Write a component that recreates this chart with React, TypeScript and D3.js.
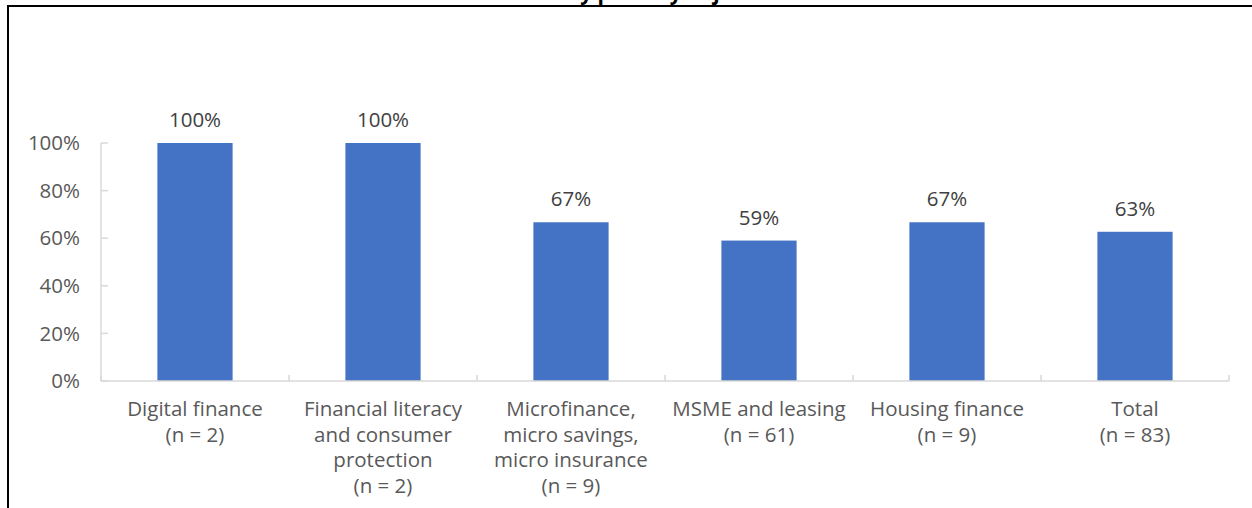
import React, { useEffect, useRef } from 'react';
import * as d3 from 'd3';

// chart data
const categories = [
  ['Digital finance', '(n = 2)'],
  ['Financial literacy', 'and consumer', 'protection', '(n = 2)'],
  ['Microfinance,', 'micro savings,', 'micro insurance', '(n = 9)'],
  ['MSME and leasing', '(n = 61)'],
  ['Housing finance', '(n = 9)'],
  ['Total', '(n = 83)'],
];
const shares = [1.0, 1.0, 0.667, 0.59, 0.667, 0.627];
const yTicks = [0, 0.2, 0.4, 0.6, 0.8, 1.0];
const title = 'Success by primary objective';

const FONT = '"Open Sans", "Noto Sans", sans-serif';

export default function App() {
  const ref = useRef<SVGSVGElement | null>(null);

  useEffect(() => {
    if (!ref.current) return;
    const svg = d3.select(ref.current);
    svg.selectAll('*').remove();

    const width = 1252;
    const height = 508;
    const left = 101;
    const right = 1229;
    const top = 143;
    const bottom = 381;

    // outer frame (clipped on right / bottom)
    svg.append('rect')
      .attr('x', 8)
      .attr('y', 6)
      .attr('width', width + 20)
      .attr('height', height + 20)
      .attr('fill', 'none')
      .attr('stroke', '#000')
      .attr('stroke-width', 2);

    // title, mostly cut off at the top like the source
    svg.append('text')
      .attr('x', 632)
      .attr('y', 0)
      .attr('text-anchor', 'middle')
      .attr('fill', '#000')
      .style('font-family', FONT)
      .style('font-weight', 'bold')
      .style('font-size', '21px')
      .text(title);

    const x = d3.scaleBand<number>()
      .domain(d3.range(categories.length))
      .range([left, right])
      .paddingInner(0.6)
      .paddingOuter(0.3);

    const y = d3.scaleLinear().domain([0, 1]).range([bottom, top]);

    const g = svg.append('g');

    // y axis line + ticks (inside)
    g.append('line')
      .attr('x1', left).attr('x2', left)
      .attr('y1', y(1)).attr('y2', y(0))
      .attr('stroke', '#d9d9d9').attr('stroke-width', 1.5);
    g.selectAll('line.ytick')
      .data(yTicks)
      .join('line')
      .attr('class', 'ytick')
      .attr('x1', left).attr('x2', left + 7)
      .attr('y1', d => y(d)).attr('y2', d => y(d))
      .attr('stroke', '#d9d9d9').attr('stroke-width', 1.5);
    g.selectAll('text.ylabel')
      .data(yTicks)
      .join('text')
      .attr('class', 'ylabel')
      .attr('x', 80)
      .attr('y', d => y(d))
      .attr('dy', '0.35em')
      .attr('text-anchor', 'end')
      .attr('fill', '#595959')
      .style('font-family', FONT)
      .style('font-size', '20.5px')
      .text(d => d3.format('.0%')(d));

    // bars
    g.selectAll('rect.bar')
      .data(shares)
      .join('rect')
      .attr('class', 'bar')
      .attr('x', (_, i) => x(i)!)
      .attr('width', x.bandwidth())
      .attr('y', d => y(d))
      .attr('height', d => y(0) - y(d))
      .attr('fill', '#4472C4');

    // value labels
    g.selectAll('text.val')
      .data(shares)
      .join('text')
      .attr('class', 'val')
      .attr('x', (_, i) => x(i)! + x.bandwidth() / 2)
      .attr('y', d => y(d) - 16)
      .attr('text-anchor', 'middle')
      .attr('fill', '#404040')
      .style('font-family', FONT)
      .style('font-size', '20.5px')
      .text(d => d3.format('.0%')(d));

    // x axis line + category ticks (pointing up)
    g.append('line')
      .attr('x1', left).attr('x2', right)
      .attr('y1', y(0)).attr('y2', y(0))
      .attr('stroke', '#d9d9d9').attr('stroke-width', 1.5);
    const step = x.step();
    g.selectAll('line.xtick')
      .data(d3.range(categories.length + 1))
      .join('line')
      .attr('class', 'xtick')
      .attr('x1', i => left + i * step).attr('x2', i => left + i * step)
      .attr('y1', y(0)).attr('y2', y(0) - 6)
      .attr('stroke', '#d9d9d9').attr('stroke-width', 1.5);

    // category labels
    const lab = g.selectAll('text.xlabel')
      .data(categories)
      .join('text')
      .attr('class', 'xlabel')
      .attr('text-anchor', 'middle')
      .attr('fill', '#595959')
      .style('font-family', FONT)
      .style('font-size', '20.5px');
    lab.each(function (lines, i) {
      const t = d3.select(this);
      lines.forEach((line, k) => {
        t.append('tspan')
          .attr('x', x(i)! + x.bandwidth() / 2)
          .attr('y', 416 + k * 25.5)
          .text(line);
      });
    });
  }, []);

  return (
    <svg
      ref={ref}
      width={1252}
      height={508}
      style={{ position: 'absolute', left: 0, top: 0, background: '#fff' }}
    />
  );
}
